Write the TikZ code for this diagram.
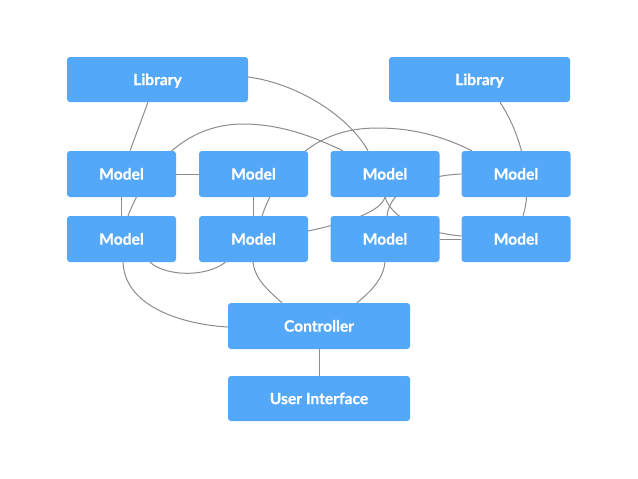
\documentclass[tikz,border=0pt]{standalone}
\usepackage{fontspec}
\setmainfont{Lato}[BoldFeatures={FakeBold=0.6}]
\usetikzlibrary{calc,backgrounds}
\definecolor{boxblue}{RGB}{84,168,249}
\definecolor{linegray}{RGB}{140,140,140}
\tikzset{
  box/.style={fill=boxblue, rounded corners=3pt, inner sep=0pt, text=white,
    font=\fontsize{15.6}{18}\selectfont\bfseries, anchor=center,
    text height=11.2pt, text depth=0pt},
  libbox/.style={box, minimum width=181pt, minimum height=45pt},
  modelbox/.style={box, minimum width=109pt, minimum height=46pt},
  wide/.style={box, minimum width=182pt, minimum height=46pt},
  link/.style={draw=linegray, line width=1pt}
}
\begin{document}
\begin{tikzpicture}[x=1pt,y=-1pt]
\useasboundingbox (0,0) rectangle (638,479);
\node[libbox] (lib1) at (157.5,79.5) {Library};
\node[libbox] (lib2) at (479.5,79.5) {Library};
\node[modelbox] (m11) at (121.5,174) {Model};
\node[modelbox] (m12) at (253.5,174) {Model};
\node[modelbox] (m13) at (385,174) {Model};
\node[modelbox] (m14) at (516,174) {Model};
\node[modelbox] (m21) at (121.5,239) {Model};
\node[modelbox] (m22) at (253.5,239) {Model};
\node[modelbox] (m23) at (385,239) {Model};
\node[modelbox] (m24) at (516,239) {Model};
\node[wide] (ctrl) at (319,326) {Controller};
\node[wide,minimum height=45pt] (ui) at (319,398.5) {User Interface};
\begin{pgfonlayer}{background}
% library links
\draw[link] ($(lib1.south)+(-9.5,0)$) -- ($(m11.north)+(8.5,0)$);
\draw[link] ($(lib1.east)+(0,-2.5)$) .. controls (300,84) and (350,118) .. ($(m13.north)+(-17,0)$);
\draw[link] ($(lib2.south)+(20.5,0)$) .. controls (525,140) and (532,190) .. ($(m24.north)+(7,0)$);
% grid links
\draw[link] (m11.east) -- (m12.west);
\draw[link] (m11.south) -- (m21.north);
\draw[link] (m12.south) -- (m22.north);
\draw[link] (m23.east) -- (m24.west);
% arcs
\draw[link] ($(m21.north)+(6.5,0)$) .. controls (150,160) and (190,124) .. (243,124)
  .. controls (285,124) and (320,140) .. ($(m13.north)+(-42,0)$);
\draw[link] ($(m22.north)+(8.5,0)$) .. controls (280,165) and (315,128) .. (377,128)
  .. controls (420,128) and (450,140) .. ($(m14.north)+(-44,0)$);
\draw[link] ($(m22.east)+(0,-8)$) .. controls (350,222) and (380,212) .. (m13.south);
\draw[link] ($(m23.north)+(2,0)$) .. controls (390,190) and (420,176) .. (m14.west);
\draw[link] (m13.south) .. controls (392,218) and (420,232) .. ($(m24.west)+(0,-3)$);
\draw[link] ($(m21.south)+(28.5,0)$) .. controls (165,276) and (205,278) .. ($(m22.south)+(-28,0)$);
% to controller
\draw[link] ($(m21.south)+(1.5,0)$) .. controls (125,310) and (190,325) .. ($(ctrl.west)+(0,1)$);
\draw[link] ($(m22.south)+(-0.5,0)$) .. controls (255,280) and (270,292) .. ($(ctrl.north)+(-37,0)$);
\draw[link] (m23.south) .. controls (383,280) and (370,292) .. ($(ctrl.north)+(38,0)$);
\draw[link] (ctrl.south) -- (ui.north);
\end{pgfonlayer}
\end{tikzpicture}
\end{document}
